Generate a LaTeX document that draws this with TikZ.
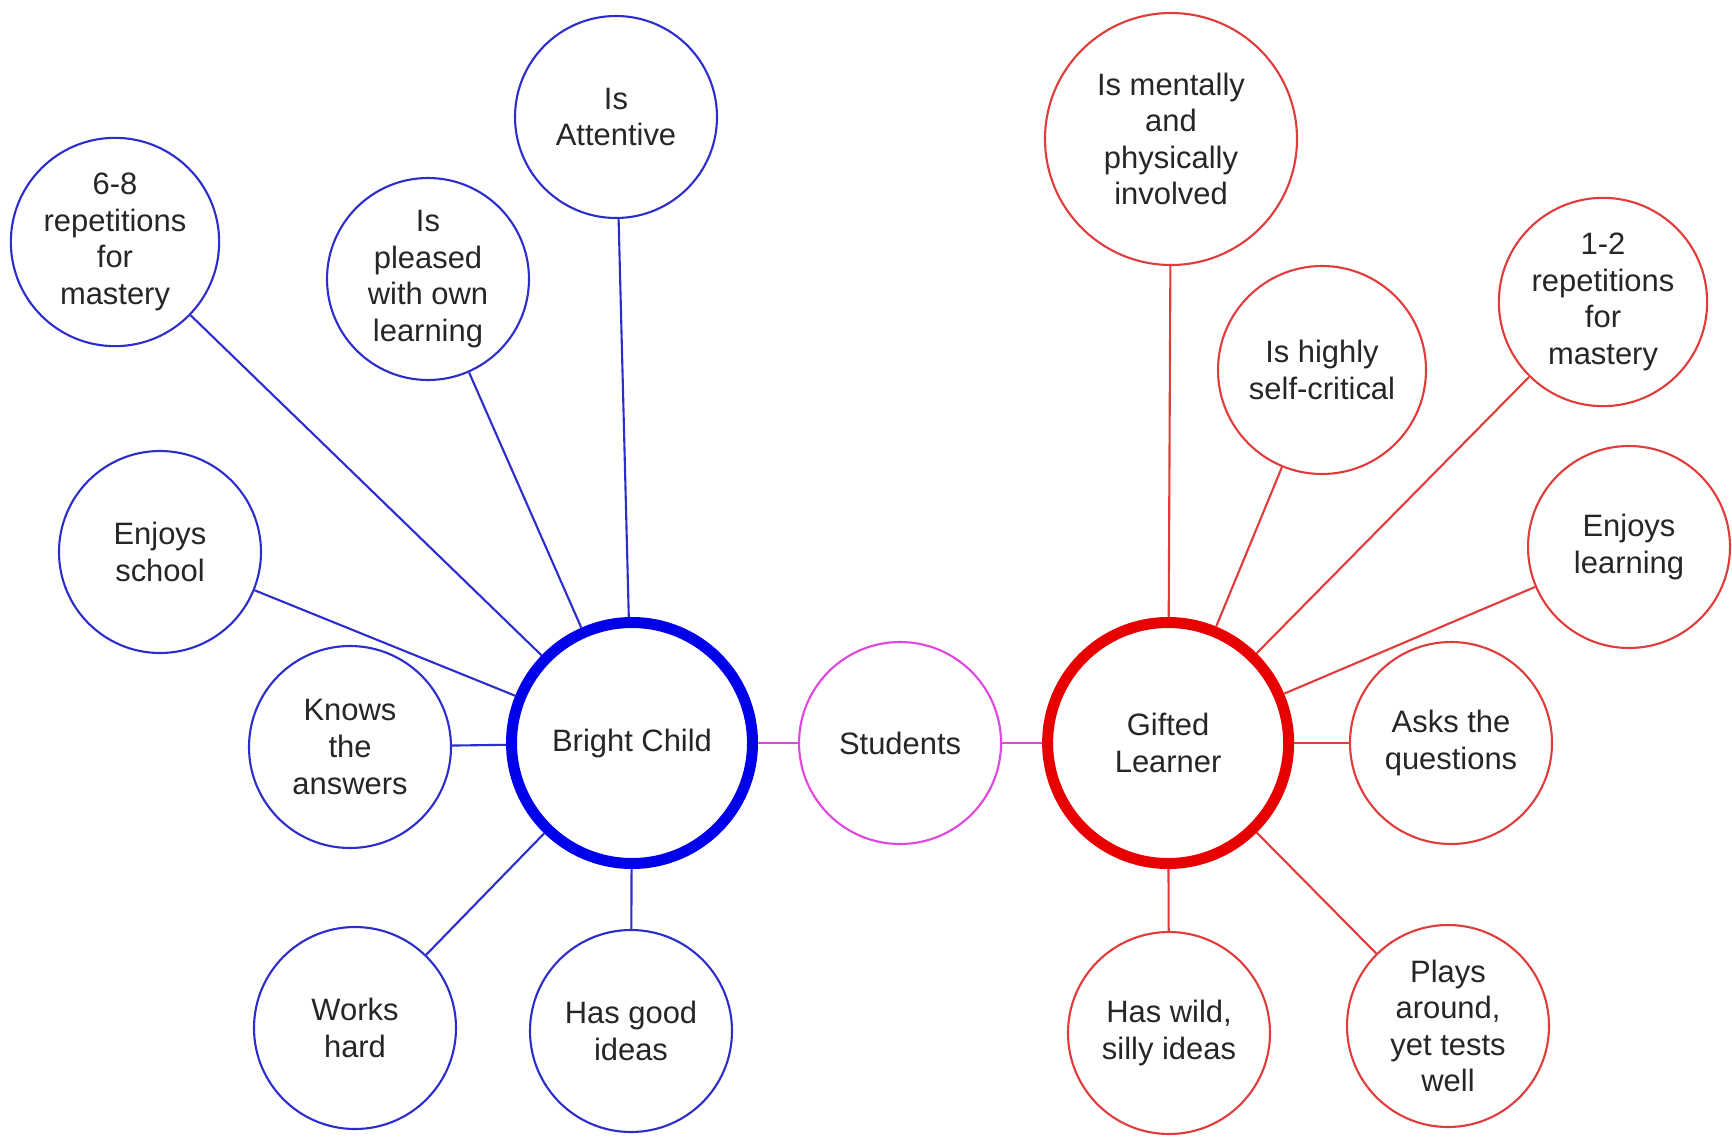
\documentclass[tikz,border=0pt]{standalone}
\usepackage{fontspec}
\setmainfont{Liberation Sans}
\usetikzlibrary{positioning}

\definecolor{bluedark}{RGB}{45,45,205}
\definecolor{bluehub}{RGB}{0,0,235}
\definecolor{redlite}{RGB}{225,60,60}
\definecolor{redhub}{RGB}{232,0,0}
\definecolor{pinkline}{RGB}{225,70,225}

\tikzset{
  trait/.style={circle, draw, fill=white, line width=0.6pt, minimum size=2.02cm,
    inner sep=1pt, align=center, text=black!85, font=\fontsize{8.8}{10.4}\selectfont},
  bluetrait/.style={trait, draw=bluedark},
  redtrait/.style={trait, draw=redlite},
  hub/.style={trait, line width=0.11cm, minimum size=2.41cm},
  bline/.style={draw=bluedark, line width=0.6pt},
  rline/.style={draw=redlite, line width=0.6pt},
  pline/.style={draw=pinkline, line width=0.7pt},
}

\begin{document}
\begin{tikzpicture}[node distance=4mm]
  \useasboundingbox (0,0) rectangle (17.32,11.36);

  \node[hub, draw=bluehub] (bright) at (6.32,3.93) {Bright Child};
  \node[trait, draw=pinkline] (stud) [right=of bright] {Students} edge[pline] (bright);
  \node[hub, draw=redhub] (gifted) [right=of stud] {Gifted\\Learner} edge[pline] (stud);

  % bright child
  \node[bluetrait] (b_att) at (6.16,10.19) {Is\\Attentive} edge[bline] (bright);
  \node[bluetrait] (b_pleased) at (4.28,8.57) {Is\\pleased\\with own\\learning} edge[bline] (bright);
  \node[bluetrait, minimum size=2.06cm] (b_reps) at (1.15,8.94) {6-8\\repetitions\\for\\mastery} edge[bline] (bright);
  \node[bluetrait] (b_school) at (1.60,5.84) {Enjoys\\school} edge[bline] (bright);
  \node[bluetrait] (b_knows) at (3.50,3.89) {Knows\\the\\answers} edge[bline] (bright);
  \node[bluetrait] (b_works) at (3.55,1.08) {Works\\hard} edge[bline] (bright);
  \node[bluetrait] (b_ideas) at (6.31,1.05) {Has good\\ideas} edge[bline] (bright);

  % gifted learner
  \node[redtrait, minimum size=2.52cm] (g_involved) at (11.71,9.97) {Is mentally\\and\\physically\\involved} edge[rline] (gifted);
  \node[redtrait, minimum size=2.08cm] (g_critical) at (13.22,7.66) {Is highly\\self-critical} edge[rline] (gifted);
  \node[redtrait, minimum size=2.08cm] (g_reps) at (16.03,8.34) {1-2\\repetitions\\for\\mastery} edge[rline] (gifted);
  \node[redtrait] (g_learning) at (16.29,5.89) {Enjoys\\learning} edge[rline] (gifted);
  \node[redtrait] (g_asks) at (14.51,3.93) {Asks the\\questions} edge[rline] (gifted);
  \node[redtrait] (g_plays) at (14.48,1.10) {Plays\\around,\\yet tests\\well} edge[rline] (gifted);
  \node[redtrait] (g_wild) at (11.69,1.03) {Has wild,\\silly ideas} edge[rline] (gifted);

\end{tikzpicture}
\end{document}
